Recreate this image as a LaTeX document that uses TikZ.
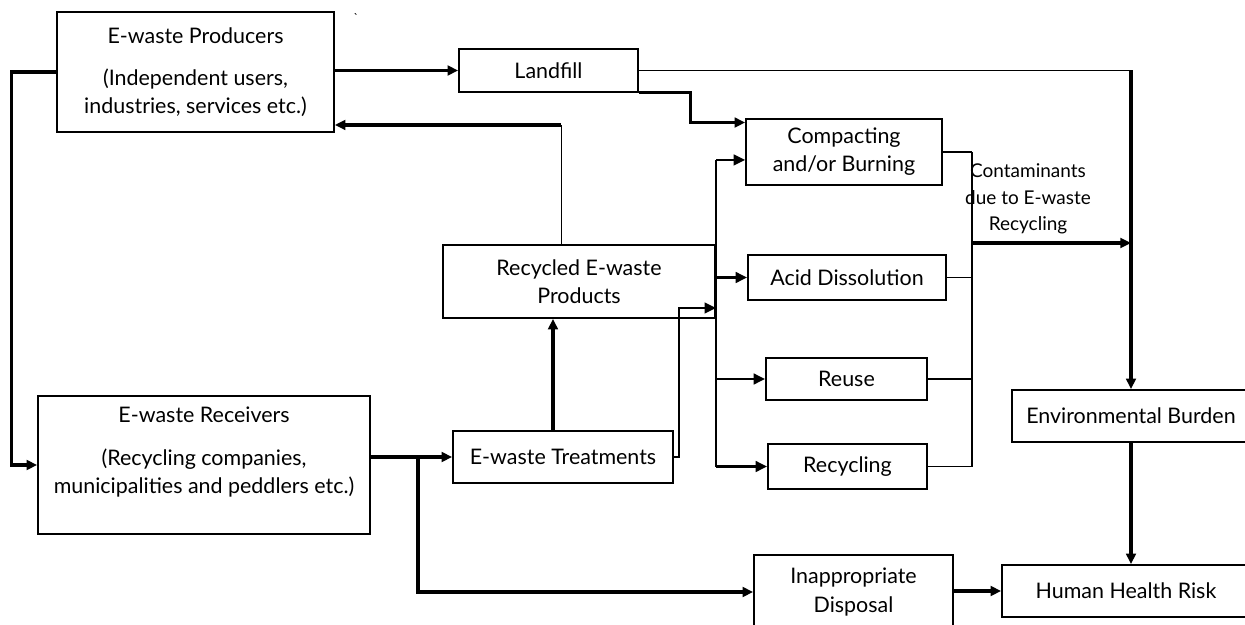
\documentclass[tikz,border=0pt]{standalone}
\usepackage{fontspec}
\setmainfont{Lato}
\usetikzlibrary{positioning, calc, arrows.meta}

\tikzset{
	box/.style={draw, rectangle, line width=1pt, inner sep=2pt, align=center, font=\fontsize{12.2}{16}\selectfont},
	txt/.style={align=center, inner sep=0pt, font=\fontsize{12.2}{16}\selectfont},
	line/.style={line width=1pt},
	arr/.style={line width=1.8pt, -{Triangle[length=6pt, width=5.5pt]}},
	thinarr/.style={line width=1.4pt, -{Triangle[length=6.5pt, width=6pt]}},
}

\begin{document}
\begin{tikzpicture}[x=0.02cm, y=-0.02cm]
	\useasboundingbox (0,0) rectangle (1245,625);
	
	% boxes
	\node[box, minimum width=5.54cm, minimum height=2.4cm] (prod) at (195.5,72) {E-waste Producers\\[8pt](Independent users,\\industries, services etc.)};
	\node[box, minimum width=3.58cm, minimum height=0.86cm] (landfill) at (548.5,70.5) {Landfill};
	\node[box, minimum width=3.92cm, minimum height=1.32cm] (compact) at (844,152) {Compacting\\and/or Burning};
	\node[box, minimum width=3.96cm, minimum height=0.9cm] (acid) at (847,277.5) {Acid Dissolution};
	\node[box, minimum width=3.22cm, minimum height=0.84cm] (reuse) at (846.5,379) {Reuse};
	\node[box, minimum width=3.18cm, minimum height=0.9cm] (recyc) at (847.5,466.5) {Recycling};
	\node[box, minimum width=5.44cm, minimum height=1.46cm] (products) at (579,281.5) {Recycled E-waste\\Products};
	\node[box, minimum width=4.4cm, minimum height=1.04cm] (treat) at (563,457) {E-waste Treatments};
	\node[box, minimum width=6.64cm, minimum height=2.76cm] (recv) at (204,465) {};
	\node[txt] (recvlbl) at (204,452) {E-waste Receivers\\[8pt](Recycling companies,\\municipalities and peddlers etc.)};
	\node[box, minimum width=3.98cm, minimum height=1.48cm] (disposal) at (853.5,592) {Inappropriate\\Disposal};
	\node[box, minimum width=4.96cm, minimum height=1.04cm] (health) at (1126,591) {Human Health Risk};
	\node[box, minimum width=4.76cm, minimum height=1.04cm] (envb) at (1131,416) {Environmental Burden};
	\node[txt, font=\fontsize{10.8}{15}\selectfont] (contam) at (1028,199) {Contaminants\\due to E-waste\\Recycling};
	\node[txt, font=\scriptsize] (tick) at (356,18) {\textasciigrave};
	
	% producers and landfill
	\draw[arr] (prod.west) -- ++(-45,0) |- (recv.west);
	\draw[arr] (prod.east |- landfill.west) -- (landfill.west);
	\coordinate (envtop) at (envb.north |- landfill.east);
	\draw[line] (landfill.east) -- (envtop);
	\draw[arr] (envtop) -- (envb.north);
	\coordinate (cin) at ([yshift=-2.5pt]compact.north west);
	\draw[arr] (landfill.south east) -- ++(52,0) |- (cin);
	
	% recycled products back to producers
	\coordinate (back) at ([xshift=-10pt]products.north);
	\coordinate (backtop) at ([yshift=4.5pt]back |- prod.south east);
	\draw[line] (back) -- (backtop);
	\draw[arr] (backtop) -- (backtop -| prod.east);
	
	% receivers to treatments
	\draw[arr] (recv.east |- treat.west) -- (treat.west);
	\coordinate (fork) at (418,457);
	\draw[arr] (fork) |- (disposal.west);
	\coordinate (up) at ([xshift=-5.7pt]treat.north);
	\draw[arr] (up) -- (up |- products.south);
	
	% treatment options
	\coordinate (split) at (716,308);
	\coordinate (cin2) at ([yshift=-4.5pt]compact.west);
	\draw[thinarr] (treat.east) -- ++(5,0) |- (split);
	\draw[line width=1.4pt] (split |- cin2) -- (split |- recyc.west);
	\foreach \t in {cin2, acid.west, reuse.west, recyc.west}
		\draw[thinarr] (split |- \t) -- (\t);
	
	% contaminants
	\coordinate (collect) at (972,243);
	\foreach \s in {compact.east, acid.east, reuse.east, recyc.east}
		\draw[line] (\s) -- (collect |- \s);
	\draw[line] (collect |- compact.east) -- (collect |- recyc.east);
	\draw[arr] (collect) -- (collect -| envb.north);
	
	% health
	\draw[arr] (envb.south) -- (envb.south |- health.north);
	\draw[arr] (disposal.east |- health.west) -- (health.west);
\end{tikzpicture}
\end{document}
